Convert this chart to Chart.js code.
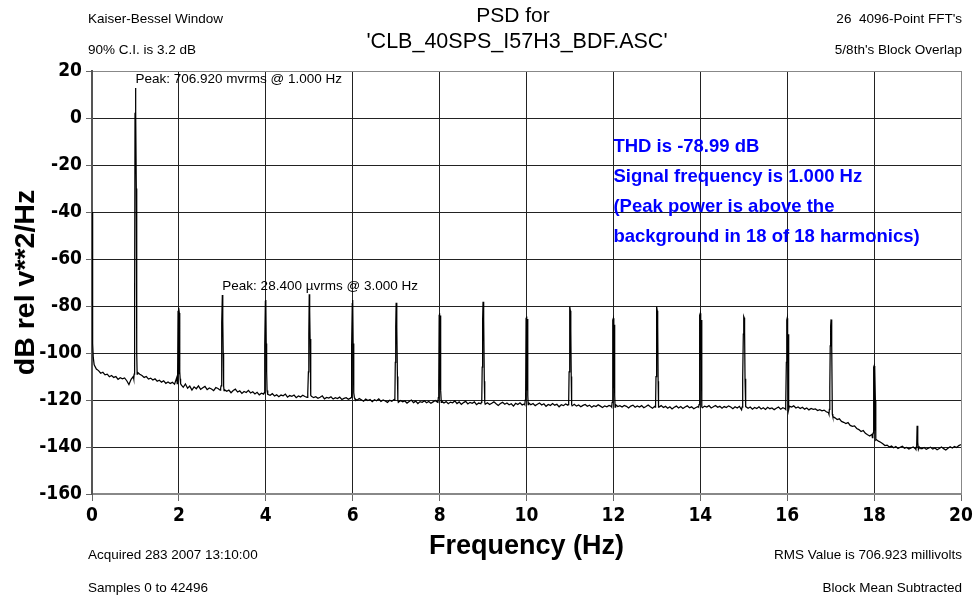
<!DOCTYPE html>
<html>
<head>
<meta charset="utf-8">
<script src="https://cdn.jsdelivr.net/npm/chart.js@4.4.1/dist/chart.umd.min.js"></script>
<style>
  html, body { margin: 0; padding: 0; background: #fff; }
  #wrap { position: relative; width: 973px; height: 602px; }
</style>
</head>
<body>
<div id="wrap"><canvas id="c" width="973" height="602"></canvas></div>
<script>
// ---------------- DATA ----------------
const xTickValues = [0, 2, 4, 6, 8, 10, 12, 14, 16, 18, 20];
const yTickValues = [20, 0, -20, -40, -60, -80, -100, -120, -140, -160];

// DC bins at the very start of the spectrum
const dcHz = [0, 0.0098, 0.0195, 0.0293];
const dcDb = [-40, -62, -96, -102];

// background floor, one value every 0.05 Hz from 0.05 to 20.00 Hz (20 values per Hz)
const floorStepHz = 0.05;
const floorDb = [
  -105.0,-106.8,-107.5,-108.6,-108.2,-109.3,-109.0,-110.1,-109.6,-110.4,-110.0,-111.2,-110.5,-111.0,-110.6,-111.8,-113.4,-111.2,-110.0,-110.5,
  -108.2,-109.0,-109.6,-110.4,-110.0,-111.1,-110.7,-111.5,-111.0,-112.0,-111.6,-112.4,-111.8,-112.9,-112.3,-113.0,-112.5,-113.3,-110.5,-112.0,
  -113.5,-114.6,-113.2,-115.0,-114.1,-115.8,-114.4,-115.2,-114.0,-115.5,-114.8,-114.2,-115.6,-114.9,-115.3,-116.0,-114.7,-115.1,-115.8,-115.0,
  -115.6,-116.3,-115.8,-116.9,-116.0,-115.4,-116.6,-116.1,-117.2,-116.4,-116.8,-115.9,-117.0,-116.5,-117.4,-116.7,-117.8,-117.1,-117.5,-117.0,
  -117.6,-118.0,-117.3,-118.3,-117.8,-118.6,-117.9,-118.2,-117.5,-118.8,-118.1,-118.4,-117.9,-119.0,-118.3,-118.7,-118.0,-118.5,-118.9,-118.5,
  -118.4,-119.0,-118.6,-119.3,-118.8,-118.2,-119.5,-118.9,-119.2,-118.6,-119.6,-119.0,-119.4,-118.8,-119.8,-119.3,-119.0,-119.7,-119.2,-119.5,
  -119.5,-120.1,-119.4,-119.9,-120.5,-119.6,-120.2,-119.8,-120.7,-119.9,-120.3,-119.5,-120.6,-120.0,-120.4,-121.0,-120.1,-120.5,-119.8,-120.2,
  -121.0,-120.2,-120.8,-120.4,-121.3,-120.6,-120.0,-121.1,-120.5,-121.5,-120.7,-121.0,-120.3,-121.2,-120.6,-121.4,-120.8,-120.2,-120.9,-120.6,
  -120.5,-121.3,-120.7,-121.6,-120.9,-121.2,-120.4,-121.5,-120.8,-121.9,-121.1,-120.6,-121.7,-121.0,-121.4,-120.8,-122.0,-121.3,-121.6,-121.2,
  -121.8,-121.2,-121.9,-121.4,-120.8,-121.6,-122.3,-121.5,-121.0,-121.8,-121.3,-122.0,-121.6,-122.6,-121.4,-121.9,-121.2,-122.1,-121.7,-121.5,
  -121.2,-122.0,-121.5,-122.4,-121.8,-121.3,-122.1,-121.6,-122.7,-121.9,-122.3,-121.5,-122.2,-121.8,-122.9,-122.0,-122.4,-121.7,-122.2,-122.0,
  -122.5,-121.8,-122.6,-122.1,-122.9,-122.3,-121.9,-122.7,-122.2,-123.1,-122.4,-122.8,-122.0,-122.6,-123.2,-122.5,-122.9,-122.3,-122.7,-122.5,
  -122.0,-122.8,-122.4,-123.0,-122.3,-122.7,-123.4,-122.6,-122.2,-123.1,-122.5,-123.0,-122.4,-123.3,-122.8,-122.1,-122.9,-123.5,-122.7,-122.9,
  -123.0,-122.4,-123.2,-122.7,-123.5,-122.9,-123.8,-123.1,-122.6,-123.4,-122.8,-123.6,-123.0,-122.5,-123.3,-122.9,-123.7,-123.2,-122.8,-123.0,
  -123.3,-122.6,-123.0,-122.4,-123.4,-122.9,-122.3,-123.1,-122.7,-123.5,-122.8,-123.2,-122.5,-123.0,-123.7,-122.9,-123.4,-122.7,-124.2,-123.2,
  -122.8,-123.5,-123.0,-123.9,-123.2,-123.6,-122.9,-123.8,-123.3,-124.0,-123.1,-123.7,-123.4,-124.1,-123.5,-123.0,-123.9,-123.3,-123.7,-123.5,
  -122.6,-123.0,-122.5,-123.4,-123.0,-123.6,-123.1,-123.9,-123.4,-124.2,-123.6,-124.0,-123.8,-124.5,-124.1,-124.6,-124.3,-125.0,-125.4,-125.2,
  -127.0,-127.6,-128.3,-128.0,-129.1,-129.5,-130.0,-129.6,-130.8,-131.2,-131.0,-132.1,-132.6,-133.4,-133.0,-134.2,-134.8,-135.3,-134.6,-135.5,
  -136.8,-137.5,-138.0,-138.6,-139.4,-139.2,-140.0,-139.6,-140.3,-139.8,-140.6,-140.1,-139.7,-140.5,-140.2,-140.9,-140.4,-140.0,-140.7,-140.5,
  -140.3,-140.8,-140.2,-141.0,-140.5,-140.1,-140.9,-140.4,-141.2,-140.6,-140.0,-140.7,-141.3,-140.5,-139.9,-140.4,-139.8,-140.2,-139.4,-139.0
];

// harmonic lines: FFT bins around each harmonic (offsets in Hz from the harmonic)
const harmonicHz = [1, 2, 3, 4, 5, 6, 7, 8, 9, 10, 11, 12, 13, 14, 15, 16, 17, 18, 19];
const binOffsetHz = [-0.039, -0.0293, -0.0195, -0.0098, 0, 0.0098, 0.0195, 0.0293, 0.039];
const harmonicBinsDb = [
  [-111, -109, -80, 2, 12.8, 3, -30, -100, -109],
  [-113, -110, -82, -109, -80.8, -83, -108, -111, -113],
  [-115, -114, -96, -87, -75.3, -86.5, -100, -114, -116],
  [-117, -116, -97, -78, -77.4, -96, -108, -116, -117],
  [-118, -117, -108, -92, -75.0, -82, -94, -112, -118],
  [-119, -118, -97, -79, -77.4, -96, -104, -117, -119],
  [-120, -119, -104, -89, -78.6, -80, -89, -110, -120],
  [-121, -119, -114, -84, -83.1, -113, -84, -116, -121],
  [-121, -120, -106, -86, -78.2, -80, -86, -112, -121],
  [-122, -120, -117, -85, -84.5, -116, -85.5, -118, -122],
  [-122, -121, -108, -87, -80.3, -82, -90, -110, -122],
  [-123, -121, -114, -86, -85.2, -115, -88, -118, -123],
  [-123, -122, -110, -86, -80.3, -82, -88, -112, -123],
  [-123, -122, -104, -84, -83.1, -103, -86, -115, -123],
  [-123, -122, -111, -92, -84.5, -85, -91, -111, -123],
  [-124, -122, -104, -86, -85.2, -103, -92, -116, -124],
  [-126, -124, -115, -97, -88.5, -85.7, -87, -96.6, -126],
  [-136, -135, -134, -106, -105.5, -133, -106.5, -120, -137],
  [-141, -140, -139, -131, -132, -138, -141, -141, -140]
];

// peak annotations
const peakLabelHz = [1, 3];
const peakLabelText = ['Peak: 706.920 mvrms @ 1.000 Hz', 'Peak: 28.400 \u00b5vrms @ 3.000 Hz'];

// header / footer / result texts
const headerLeft = ['Kaiser-Bessel Window', '90% C.I. is 3.2 dB'];
const headerRight = ["26  4096-Point FFT's", "5/8th's Block Overlap"];
const titleLines = ['PSD for', "'CLB_40SPS_I57H3_BDF.ASC'"];
const footerLeft = ['Acquired 283 2007 13:10:00', 'Samples 0 to 42496'];
const footerRight = ['RMS Value is 706.923 millivolts', 'Block Mean Subtracted'];
const resultLines = ['THD is -78.99 dB', 'Signal frequency is 1.000 Hz', '(Peak power is above the', 'background in 18 of 18 harmonics)'];

// ---------------- build the point list ----------------
const pts = [];
dcHz.forEach((f, i) => pts.push({ x: f, y: dcDb[i] }));
floorDb.forEach((v, i) => {
  const f = Math.round((i + 1) * floorStepHz * 100) / 100;
  if (harmonicHz.some(h => Math.abs(h - f) < 0.041)) return;
  pts.push({ x: f, y: v });
});
harmonicHz.forEach((h, k) => {
  binOffsetHz.forEach((o, j) => pts.push({ x: h + o, y: harmonicBinsDb[k][j] }));
});
pts.sort((a, b) => a.x - b.x);

const TXT = '"Liberation Sans", Arial, sans-serif';
const TICKFONT = '"Liberation Sans Narrow", "DejaVu Sans Condensed", sans-serif';

const textPlugin = {
  id: 'texts',
  afterDraw(chart) {
    const ctx = chart.ctx, xs = chart.scales.x, ys = chart.scales.y;
    ctx.save();
    ctx.fillStyle = '#000';
    ctx.textBaseline = 'middle';
    ctx.font = '13.5px ' + TXT;
    ctx.textAlign = 'left';
    ctx.fillText(headerLeft[0], 88, 19);
    ctx.fillText(headerLeft[1], 88, 50);
    ctx.fillText(footerLeft[0], 88, 555);
    ctx.fillText(footerLeft[1], 88, 588);
    ctx.textAlign = 'right';
    ctx.fillText(headerRight[0], 962, 19);
    ctx.fillText(headerRight[1], 962, 50);
    ctx.fillText(footerRight[0], 962, 555);
    ctx.fillText(footerRight[1], 962, 588);
    ctx.textAlign = 'center';
    ctx.font = '21px ' + TXT;
    ctx.fillText(titleLines[0], 513, 16);
    ctx.font = '21.5px ' + TXT;
    ctx.fillText(titleLines[1], 517, 42);
    // peak annotations, anchored to the peak bins
    ctx.font = '13.5px ' + TXT;
    ctx.textAlign = 'left';
    peakLabelHz.forEach((h, i) => {
      const k = harmonicHz.indexOf(h);
      const top = Math.max(...harmonicBinsDb[k]);
      ctx.fillText(peakLabelText[i], xs.getPixelForValue(h), ys.getPixelForValue(top) - 8.5);
    });
    // THD result text
    ctx.fillStyle = '#0000ff';
    ctx.font = 'bold 18.5px ' + TXT;
    const x0 = xs.getPixelForValue(12);
    const y0 = ys.getPixelForValue(-11.5) + 1.5;
    resultLines.forEach((t, i) => ctx.fillText(t, x0, y0 + i * 30.2));
    ctx.restore();
  }
};

new Chart(document.getElementById('c'), {
  type: 'line',
  data: {
    datasets: [{
      data: pts,
      borderColor: '#000',
      borderWidth: 1.25,
      pointRadius: 0,
      tension: 0,
      fill: false
    }]
  },
  options: {
    responsive: false,
    animation: false,
    parsing: false,
    layout: { padding: { left: 0, right: 12, top: 71, bottom: 0 } },
    plugins: { legend: { display: false }, tooltip: { enabled: false }, title: { display: false } },
    scales: {
      x: {
        type: 'linear', min: 0, max: 20,
        afterFit(s) { s.height = 108; s.paddingLeft = 0; s.paddingRight = 0; },
        afterBuildTicks(s) { s.ticks = xTickValues.map(v => ({ value: v })); },
        ticks: { font: { family: TICKFONT, size: 19, weight: 'bold' }, color: '#000', padding: 4, maxRotation: 0, autoSkip: false },
        grid: {
          color: c => (c.tick && (c.tick.value === 0 || c.tick.value === 20)) ? '#888' : '#222',
          tickColor: '#666', tickLength: 7, lineWidth: 1
        },
        border: { display: true, color: '#888', width: 2 },
        title: { display: true, text: 'Frequency (Hz)', font: { family: TXT, size: 27, weight: 'bold' }, color: '#000', padding: { top: 0, bottom: 39 } }
      },
      y: {
        type: 'linear', min: -160, max: 20,
        afterFit(s) { s.width = 92; s.paddingTop = 0; s.paddingBottom = 0; },
        afterBuildTicks(s) { s.ticks = yTickValues.map(v => ({ value: v })); },
        ticks: { font: { family: TICKFONT, size: 19, weight: 'bold' }, color: '#000', padding: 4 },
        grid: {
          color: c => (c.tick && (c.tick.value === 20 || c.tick.value === -160)) ? '#888' : '#222',
          tickColor: '#666', tickLength: 6, lineWidth: 1
        },
        border: { display: true, color: '#555', width: 2 },
        title: { display: true, text: 'dB rel v**2/Hz', font: { family: TXT, size: 28.5, weight: 'bold' }, color: '#000', padding: { top: 9, bottom: 0 } }
      }
    }
  },
  plugins: [textPlugin]
});
</script>
</body>
</html>
